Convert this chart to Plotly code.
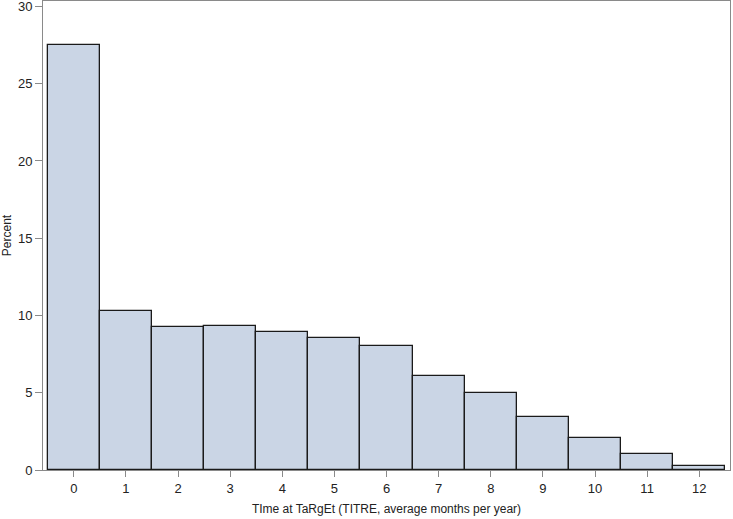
'''
    Histogram of time at target (TITRE) in average months per year.
'''
import plotly.graph_objects as go

months = list(range(13))
percent = [27.5, 10.3, 9.25, 9.3, 8.9, 8.57, 8.0, 6.1, 5.0, 3.43, 2.1, 1.05, 0.23]
tick_labels = [str(m) for m in months]

AXIS_COLOR = '#8a8a8a'
FONT = 'Arial, Liberation Sans, sans-serif'

fig = go.Figure(
    go.Bar(
        x=months,
        y=percent,
        width=1,
        marker=dict(color='#cad5e5', line=dict(color='#1a1a1a', width=1.3)),
    )
)

fig.update_layout(
    width=733,
    height=519,
    margin=dict(l=43, r=3, t=1, b=49, autoexpand=False),
    plot_bgcolor='white',
    paper_bgcolor='white',
    font=dict(family=FONT, size=13, color='#222222'),
    showlegend=False,
    bargap=0,
)

fig.update_xaxes(
    range=[-0.59, 12.59],
    tickmode='array',
    tickvals=months,
    ticktext=tick_labels,
    ticks='outside',
    ticklen=6,
    tickcolor=AXIS_COLOR,
    showline=True,
    linecolor=AXIS_COLOR,
    linewidth=1,
    mirror=True,
    showgrid=False,
    zeroline=False,
    automargin=False,
    title=dict(text='TIme at TaRgEt (TITRE, average months per year)', standoff=10,
               font=dict(size=12)),
)

fig.update_yaxes(
    range=[0, 30.35],
    tickvals=[0, 5, 10, 15, 20, 25, 30],
    ticks='outside',
    ticklen=7,
    tickcolor=AXIS_COLOR,
    showline=True,
    linecolor=AXIS_COLOR,
    linewidth=1,
    mirror=True,
    showgrid=False,
    zeroline=False,
    automargin=False,
    ticklabeloverflow='allow',
    title=dict(text='Percent', standoff=6, font=dict(size=12)),
)

# the page body has a default margin; drop it so the figure fills the window
fig.write_html('out.html', config={'displayModeBar': False},
               post_script="document.body.style.margin='0';")
